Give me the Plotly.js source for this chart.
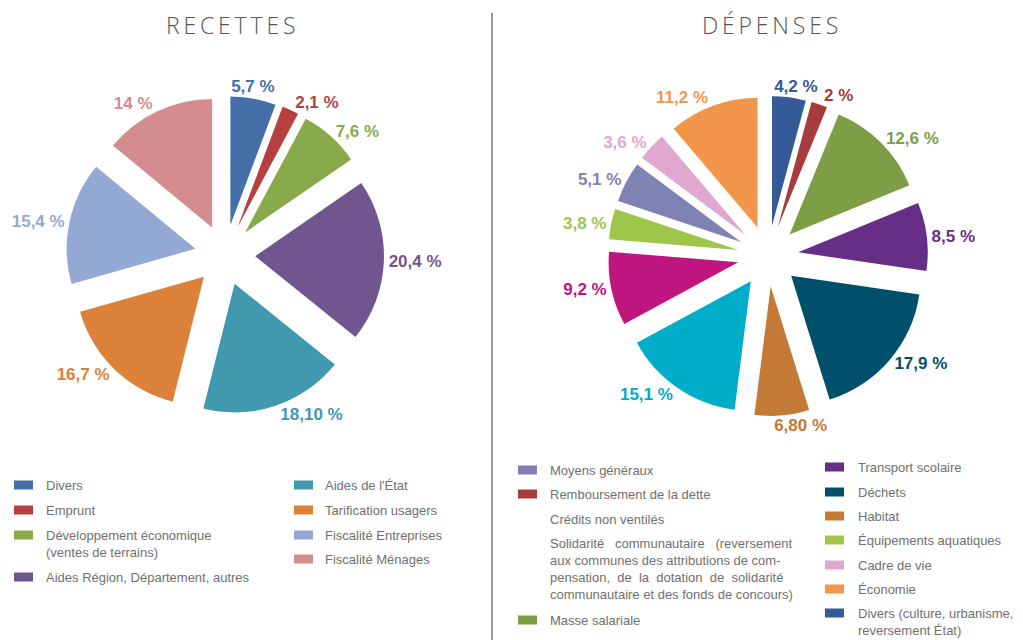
<!DOCTYPE html>
<html>
<head>
<meta charset="utf-8">
<script src="https://cdn.plot.ly/plotly-3.0.1.min.js"></script>
<style>html,body{margin:0;padding:0;background:#fff;}#chart{width:1023px;height:640px;}</style>
</head>
<body>
<div id="chart"></div>
<script>
// ---------- RECETTES ----------
const recLabels = ['Divers', 'Emprunt', 'Développement économique (ventes de terrains)', 'Aides Région, Département, autres', "Aides de l'État", 'Tarification usagers', 'Fiscalité Entreprises', 'Fiscalité Ménages'];
const recValues = [5.7, 2.1, 7.6, 20.4, 18.1, 16.7, 15.4, 14];
const recText = ['5,7 %', '2,1 %', '7,6 %', '20,4 %', '18,10 %', '16,7 %', '15,4 %', '14 %'];
const recColors = ['#4470a9', '#b5403f', '#89aa4a', '#70558f', '#4099ae', '#dc8139', '#93a9d3', '#d48c8f'];
const recLegendText = ['Divers', 'Emprunt', 'Développement économique<br>(ventes de terrains)', 'Aides Région, Département, autres', "Aides de l'État", 'Tarification usagers', 'Fiscalité Entreprises', 'Fiscalité Ménages'];

// ---------- DÉPENSES ----------
const depLabels = ['Divers (culture, urbanisme, reversement État)', 'Remboursement de la dette', 'Masse salariale', 'Transport scolaire', 'Déchets', 'Habitat', 'Solidarité communautaire', 'Crédits non ventilés', 'Équipements aquatiques', 'Moyens généraux', 'Cadre de vie', 'Économie'];
const depValues = [4.2, 2, 12.6, 8.5, 17.9, 6.8, 15.1, 9.2, 3.8, 5.1, 3.6, 11.2];
const depText = ['4,2 %', '2 %', '12,6 %', '8,5 %', '17,9 %', '6,80 %', '15,1 %', '9,2 %', '3,8 %', '5,1 %', '3,6 %', '11,2 %'];
const depColors = ['#345a98', '#a63c3b', '#7e9e46', '#662e87', '#00506b', '#c47a37', '#00adc8', '#bf157f', '#9dc64b', '#7f83b4', '#e0a8cf', '#f2964b'];
const depLegendText = [
  'Divers (culture, urbanisme,<br>reversement État)', 'Remboursement de la dette', 'Masse salariale', 'Transport scolaire', 'Déchets', 'Habitat',
  'Solidarité\u00a0\u00a0\u00a0communautaire\u00a0\u00a0\u00a0(reversement<br>aux communes des attributions de com-<br>pensation,\u00a0 de\u00a0 la\u00a0 dotation\u00a0 de\u00a0 solidarité<br>communautaire et des fonds de concours)',
  'Crédits non ventilés', 'Équipements aquatiques', 'Moyens généraux', 'Cadre de vie', 'Économie'];
// entries without a colour swatch in the legend
const depNoSwatch = ['Solidarité communautaire', 'Crédits non ventilés'];

// slices whose value label is drawn on its own transparent layer, centred on the
// top / bottom of the pie as in the original (avoids Plotly's label scooting)
const recSoloLabels = ['Divers'];
const depSoloLabels = ['Divers (culture, urbanisme, reversement État)', 'Habitat'];

const W = 1023, H = 640;
const px = v => v / W;
const py = v => 1 - v / H;

const labelFont = {family: 'Liberation Sans, Arial, sans-serif', size: 17, weight: 700};
const PULL = 0.235;

function pieTrace(labels, values, text, colors, sliceColors, dom, rotation) {
  return {
    type: 'pie', labels: labels, values: values, text: text,
    textinfo: 'text', textposition: 'outside',
    sort: false, direction: 'clockwise', rotation: rotation,
    pull: PULL,
    marker: {colors: sliceColors, line: {width: 0}},
    outsidetextfont: Object.assign({}, labelFont, {color: colors}),
    textfont: Object.assign({}, labelFont, {color: colors}),
    hoverinfo: 'none', showlegend: false,
    domain: dom
  };
}

function pieLayers(labels, values, text, colors, solo, d) {
  const total = values.reduce((a, b) => a + b, 0);
  const isSolo = labels.map(l => solo.indexOf(l) >= 0);
  const layers = [pieTrace(labels, values, text.map((t, i) => isSolo[i] ? '' : t), colors, colors, d, 0)];
  let cum = 0;
  values.forEach((v, i) => {
    const mid = (cum + v / 2) / total * 360;
    cum += v;
    if (!isSolo[i]) return;
    const target = (mid < 90 || mid > 270) ? 0.5 : 179.5;
    const clear = colors.map(() => 'rgba(0,0,0,0)');
    layers.push(pieTrace(labels, values, text.map((t, j) => j === i ? t : ''), colors, clear, d, target - mid));
  });
  return layers;
}

// pie domains from centre (px) and box size (px)
function dom(cx, cy, box) {
  return {x: [px(cx - box / 2), px(cx + box / 2)], y: [py(cy + box / 2), py(cy - box / 2)]};
}

const traces = [].concat(
  pieLayers(recLabels, recValues, recText, recColors, recSoloLabels, dom(225, 255, 318)),
  pieLayers(depLabels, depValues, depText, depColors, depSoloLabels, dom(768, 256, 320))
);

const shapes = [
  {type: 'line', xref: 'paper', yref: 'paper', x0: px(492), x1: px(492), y0: py(13), y1: py(640), line: {color: '#9a9a9a', width: 2}}
];
const titleFont = {family: 'Open Sans, sans-serif', size: 23, weight: 300, color: '#555555'};
const spaced = s => s.split('').join('\u2009');
const annotations = [
  {text: spaced('RECETTES'), x: px(230), y: py(25), xref: 'paper', yref: 'paper', showarrow: false, xanchor: 'center', yanchor: 'middle', font: titleFont},
  {text: spaced('DÉPENSES'), x: px(770), y: py(25), xref: 'paper', yref: 'paper', showarrow: false, xanchor: 'center', yanchor: 'middle', font: titleFont}
];

const legFont = {family: 'Liberation Sans, Arial, sans-serif', size: 13, color: '#707070'};
const lineH = 17.5;

// legend layout: [label index, first-line centre y (px)] per column
function addLegend(labels, legendText, colors, noSwatch, columns) {
  columns.forEach(col => {
    col.rows.forEach(([idx, yc]) => {
      const txt = legendText[idx];
      const n = txt.split('<br>').length;
      if (noSwatch.indexOf(labels[idx]) < 0) {
        shapes.push({type: 'rect', xref: 'paper', yref: 'paper', x0: px(col.sx), x1: px(col.sx + 19), y0: py(yc + 4.5), y1: py(yc - 4.5),
          fillcolor: colors[idx], line: {width: 0}});
      }
      annotations.push({text: txt, x: px(col.tx), y: py(yc + (n - 1) * lineH / 2), xref: 'paper', yref: 'paper', showarrow: false,
        xanchor: 'left', yanchor: 'middle', align: 'left', font: legFont});
    });
  });
}

addLegend(recLabels, recLegendText, recColors, [], [
  {sx: 14, tx: 44, rows: [[0, 485], [1, 510], [2, 535], [3, 577]]},
  {sx: 294, tx: 323, rows: [[4, 485], [5, 510], [6, 535], [7, 559]]}
]);
addLegend(depLabels, depLegendText, depColors, depNoSwatch, [
  {sx: 518, tx: 548, rows: [[9, 470], [1, 494], [7, 519], [6, 543], [2, 620]]},
  {sx: 825, tx: 856, rows: [[3, 467], [4, 492], [5, 516], [8, 540], [10, 565], [11, 589], [0, 613]]}
]);

const layout = {
  width: W, height: H,
  margin: {l: 0, r: 0, t: 0, b: 0},
  paper_bgcolor: '#ffffff', plot_bgcolor: '#ffffff',
  showlegend: false,
  shapes: shapes, annotations: annotations
};

Plotly.newPlot('chart', traces, layout, {staticPlot: true, displayModeBar: false});
</script>
</body>
</html>
